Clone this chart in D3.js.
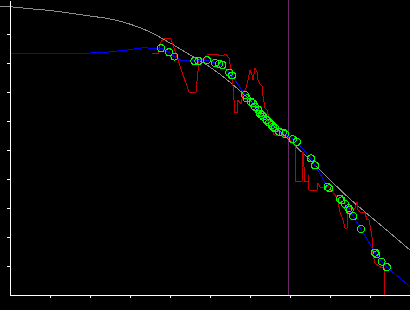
<!DOCTYPE html>
<html><head><meta charset="utf-8">
<script src="https://cdn.jsdelivr.net/npm/d3@7"></script>
<style>html,body{margin:0;padding:0;background:#000;}svg{display:block;}</style>
</head><body>
<script>
// Reference (gray) curve
const grayX = [-2.5,0,5,10,15,20,25,30,35,40,45,50,55,60,65,70,75,80,85,90,95,100];
const grayY = [99.6,99.4,98.7,98.1,97.2,96.2,95.2,93.4,90.7,86.9,82.8,78.6,73.4,67.2,59.7,53.1,46.6,39.7,33.1,27.2,21.4,15.5];

// Observed points (green circles)
const ptX = [37.75,39.75,41.1,46.1,47.1,49.2,51.25,52.3,53.1,54.8,55.5,58.75,59.2,60.2,60.7,61.25,62.1,62.5,62.9,63.3,64.2,64.8,65.4,65.8,66.25,67.3,68.2,68.75,70.7,71.7,75.25,76.25,79.4,79.8,82.5,82.9,83.75,84.6,84.9,85.8,87.75,91.25,91.6,92.9,94.2];
const ptY = [85.1,83.7,82.2,80.7,80.7,81.0,80.0,79.7,79.3,76.7,75.7,69.0,67.8,66.7,66.1,64.9,63.8,62.6,62.1,61.5,60.3,59.4,58.6,58.0,57.5,56.3,56.0,55.5,53.7,52.8,47.1,44.7,37.3,36.8,33.2,32.6,31.4,29.9,29.3,27.2,22.7,14.6,14.0,11.5,9.6];

// Fitted (blue) line
const blueX = [0,18,25,30,33,37.75,39.75,41.1,42.9,46.1,47.1,49.2,51.25,52.3,53.1,54.8,55.5,58.75,59.2,60.2,60.7,61.25,62.1,62.5,62.9,63.3,64.2,64.8,65.4,65.8,66.25,67.3,68.2,68.75,70.7,71.7,75.25,76.25,79.4,79.8,82.5,82.9,83.75,84.6,84.9,85.8,87.75,91.25,91.6,92.9,94.2,100];
const blueY = [83.3,83.3,83.8,84.6,85.2,85.1,83.7,82.2,80.8,80.7,80.7,81.0,80.0,79.7,79.3,76.7,75.7,69.0,67.8,66.7,66.1,64.9,63.8,62.6,62.1,61.5,60.3,59.4,58.6,58.0,57.5,56.3,56.0,55.5,53.7,52.8,47.1,44.7,37.3,36.8,33.2,32.6,31.4,29.9,29.3,27.2,22.7,14.6,14.0,11.5,9.6,2.9];

// Raw (red) series
const redX = [35.5,37.1,37.5,38.25,40.25,42,44.75,46.5,47.25,48.5,49.25,50,52,53,54,54.75,55.25,55.75,56.25,56.75,57,57.75,58.25,59,59.5,60,60.5,60.75,61.25,61.75,62,62.5,63,63.25,63.75,64.25,64.75,65.25,66,68.25,69.5,71.25,71.5,73,73.25,73.75,74.5,74.6,74.75,76.75,77,77.5,78.75,79.5,80,80.75,81.25,81.75,82,82.5,83.25,83.75,84.25,84.5,85,85.5,86.25,86.75,87,87.5,88.75,89.25,89.75,90,90.5,90.75,91.25,92.5,93.5,93.75,95.5];
const redY = [83.4,83.4,86.6,88.3,88.3,81.0,70.0,70.0,81.0,81.4,82.8,83.1,82.8,82.4,83.1,81.7,77.6,72.1,62.8,62.8,67.2,65.9,69.3,71.4,74.1,77.6,75.9,74.1,78.3,76.9,74.1,72.8,72.1,68.6,64.5,63.8,61.0,58.6,55.2,54.8,54.1,51.4,39.0,39.0,49.3,39.0,39.0,41.4,36.2,36.2,38.6,37.2,36.9,37.6,36.2,35.5,34.5,33.4,32.1,28.6,25.9,23.1,23.1,27.9,30.0,29.3,30.0,32.1,29.3,28.6,28.3,25.9,25.9,24.1,20.0,13.8,11.0,9.7,9.3,0,0];

const cutoff = 69.4;
const xTicks = [10,20,30,40,50,60,70,80,90];
const yTicks = [10,20,30,40,50,60,70,80,90];

const W = 410, H = 310;
const svg = d3.select("body").append("svg").attr("width", W).attr("height", H)
  .style("background", "#000");

const x = d3.scaleLinear().domain([0, 100]).range([10, 410]);
const y = d3.scaleLinear().domain([0, 295 / 2.9]).range([295, 0]);

const zip = (a, b) => a.map((v, i) => [v, b[i]]);

svg.append("line")
  .attr("x1", Math.round(x(cutoff)) + 0.5).attr("x2", Math.round(x(cutoff)) + 0.5)
  .attr("y1", 0).attr("y2", y(0))
  .attr("stroke", "#6a2a6a").attr("stroke-width", 1).attr("shape-rendering", "crispEdges");

const smooth = d3.line().x(d => x(d[0])).y(d => y(d[1])).curve(d3.curveMonotoneX);
const lin = d3.line().x(d => x(d[0])).y(d => y(d[1]));

svg.append("path").attr("d", smooth(zip(grayX, grayY)))
  .attr("fill", "none").attr("stroke", "#8c8c8c").attr("stroke-width", 1)
  .attr("shape-rendering", "crispEdges");

svg.append("path").attr("d", lin(zip(redX, redY)))
  .attr("fill", "none").attr("stroke", "#c80000").attr("stroke-width", 1)
  .attr("shape-rendering", "crispEdges");

svg.append("path").attr("d", lin(zip(blueX, blueY)))
  .attr("fill", "none").attr("stroke", "#0000ff").attr("stroke-width", 1)
  .attr("shape-rendering", "crispEdges");

svg.append("g").selectAll("circle").data(zip(ptX, ptY)).join("circle")
  .attr("cx", d => x(d[0])).attr("cy", d => y(d[1])).attr("r", 3.5)
  .attr("fill", "none").attr("stroke", "#00ff00").attr("stroke-width", 1)
  .attr("shape-rendering", "crispEdges");

const xAxis = svg.append("g").attr("transform", "translate(0,295)")
  .call(d3.axisBottom(x).tickValues(xTicks).tickSize(3).tickSizeOuter(0).tickFormat(""));
const yAxis = svg.append("g").attr("transform", "translate(10,0)")
  .call(d3.axisLeft(y).tickValues(yTicks).tickSize(3).tickSizeOuter(0).tickFormat(""));
[xAxis, yAxis].forEach(g => {
  g.selectAll("path,line").attr("stroke", "#fff").attr("shape-rendering", "crispEdges");
});
</script>
</body></html>
